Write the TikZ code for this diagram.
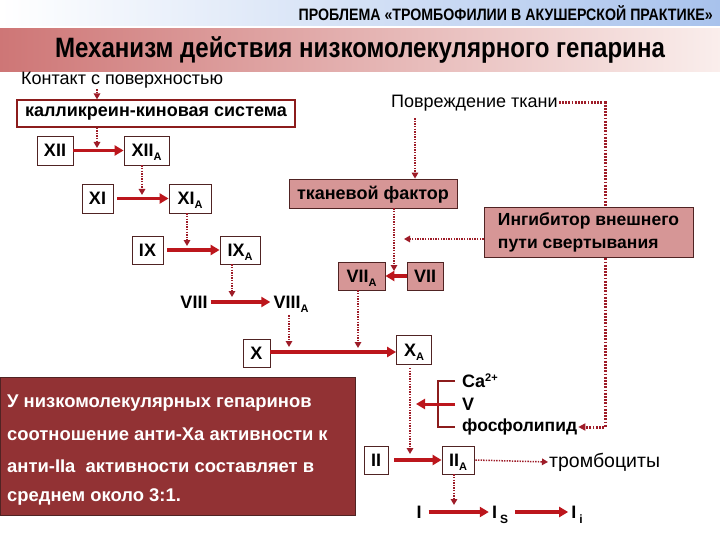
\documentclass[tikz,border=0pt]{standalone}
\usepackage{fontspec}
\setmainfont{Liberation Sans}
\newfontfamily\narrowfont[FakeStretch=0.86]{Liberation Sans}
\usetikzlibrary{arrows.meta}
\pgfdeclarelayer{bg}
\pgfsetlayers{bg,main}
\definecolor{hdrblue}{RGB}{168,194,236}
\definecolor{ttlred}{RGB}{206,118,118}
\definecolor{ttlmid}{RGB}{232,178,178}
\definecolor{ttlpale}{RGB}{250,238,236}
\definecolor{arrred}{RGB}{188,22,28}
\definecolor{dotred}{RGB}{158,28,40}
\definecolor{pinkfill}{RGB}{214,150,150}
\definecolor{boxline}{RGB}{80,35,35}
\definecolor{kalline}{RGB}{140,28,28}
\definecolor{darkbox}{RGB}{146,50,52}
\newcommand\sbA{\raisebox{-4pt}{\fontsize{11}{11}\selectfont A}}
\tikzset{
  wbox/.style={draw=boxline, fill=white, line width=0.8pt, inner sep=0pt,
    minimum height=29pt, text height=12.5pt, text depth=0pt,
    font=\fontsize{18}{18}\selectfont\bfseries},
  pbox/.style={wbox, fill=pinkfill},
  lbl/.style={inner sep=1pt, text height=12.5pt, text depth=0pt,
    font=\fontsize{18}{18}\selectfont\bfseries},
  plain/.style={inner sep=1pt, font=\fontsize{18}{18}\selectfont},
  solidarr/.style={draw=arrred, line width=3.6pt, -{Triangle[length=9pt,width=10pt]}},
  dotarr/.style={draw=dotred, line width=1.5pt, dash pattern=on 1.4pt off 1.2pt, -{Triangle[length=6pt,width=6.5pt]}},
  dotthick/.style={draw=dotred, line width=3pt, dash pattern=on 1.8pt off 1.4pt, -{Triangle[length=7pt,width=7pt]}},
  brk/.style={draw=kalline, line width=2pt},
  wtxt/.style={anchor=west, inner sep=0pt, text=white, font=\fontsize{18.4}{18.4}\selectfont\bfseries},
}
\begin{document}
\begin{tikzpicture}[x=1pt,y=-1pt]
\useasboundingbox (0,0) rectangle (720,540);
\begin{pgfonlayer}{bg}
\fill[white] (0,0) rectangle (720,540);
% header bands
\shade[left color=white, right color=hdrblue] (0,0) rectangle (720,26);
\shade[left color=ttlred, middle color=ttlmid, right color=ttlpale] (0,29) rectangle (720,72);
\end{pgfonlayer}
\node[anchor=east, inner sep=0pt, font=\narrowfont\bfseries\fontsize{16.5}{16.5}\selectfont] (hdr) at (713,13) {ПРОБЛЕМА «ТРОМБОФИЛИИ В АКУШЕРСКОЙ ПРАКТИКЕ»};
\node[inner sep=0pt, font=\narrowfont\bfseries\fontsize{28}{28}\selectfont] (ttl) at (360,50) {Механизм действия низкомолекулярного гепарина};

% left cascade
\node[plain, anchor=west] (kontakt) at (20,80) {Контакт с поверхностью};
\node[draw=kalline, fill=white, line width=1.2pt, minimum width=278pt, minimum height=27pt, inner sep=0pt,
  font=\fontsize{18}{18}\selectfont\bfseries] (kal) at (156,113.5) {калликреин-киновая система};
\node[wbox, minimum width=36pt] (XII) at (55,150.5) {XII};
\node[wbox, minimum width=45pt] (XIIA) at (146.5,150.5) {XII\sbA};
\node[wbox, minimum width=31pt] (XI) at (97.5,198.5) {XI};
\node[wbox, minimum width=42pt] (XIA) at (190,198.5) {XI\sbA};
\node[wbox, minimum width=31pt, minimum height=28pt] (IX) at (147.5,250) {IX};
\node[wbox, minimum width=40pt, minimum height=28pt] (IXA) at (240,250) {IX\sbA};
\node[lbl] (VIII) at (194,302) {VIII};
\node[lbl] (VIIIA) at (291,302) {VIII\sbA};
\node[wbox, minimum width=27pt, minimum height=28pt] (X) at (256.5,353) {X};
\node[wbox, minimum width=35pt] (XA) at (414,350) {X\sbA};

% right side
\node[plain, anchor=west] (povr) at (390,103) {Повреждение ткани};
\node[pbox, minimum width=168pt] (tkf) at (373,193.5) {тканевой фактор};
\node[pbox, minimum width=209pt, minimum height=50pt, text height=, text depth=, align=left, inner xsep=6pt,
  font=\fontsize{17.5}{23}\selectfont\bfseries] (ing) at (588.5,232) {Ингибитор внешнего\\пути свертывания};
\node[pbox, minimum width=47pt, minimum height=28pt] (VIIA) at (361.5,276) {VII\sbA};
\node[pbox, minimum width=36pt, minimum height=28pt] (VII) at (425,276) {VII};
\node[lbl, anchor=west] (ca) at (461,381) {Ca\raisebox{6pt}{\fontsize{11}{11}\selectfont 2+}};
\node[lbl, anchor=west] (V) at (461,404) {V};
\node[lbl, anchor=west, text height=, text depth=, font=\fontsize{17.5}{17.5}\selectfont\bfseries] (fosf) at (461,427) {фосфолипид};
\node[wbox, minimum width=24pt, minimum height=28pt] (II) at (376,460) {II};
\node[wbox, minimum width=32pt, minimum height=28pt] (IIA) at (458,460) {II\sbA};
\node[plain, anchor=west, font=\fontsize{19.5}{19.5}\selectfont] (tromb) at (548,462) {тромбоциты};
\node[lbl] (I) at (419,512) {I};
\node[lbl] (Is) at (500,512) {I\,\raisebox{-5pt}{\fontsize{12}{12}\selectfont S}};
\node[lbl] (Ii) at (577,512) {I\,\raisebox{-5pt}{\fontsize{12}{12}\selectfont i}};

% bottom-left box
\fill[darkbox, draw=boxline, line width=0.8pt] (0,377) rectangle (355,515);
\node[wtxt] (t1) at (7,403) {У низкомолекулярных гепаринов};
\node[wtxt] (t2) at (7,434) {соотношение анти-Ха активности к};
\node[wtxt] (t3) at (7,466) {анти-IIa\ \ активности составляет в};
\node[wtxt] (t4) at (7,497) {среднем около 3:1.};

% column coordinates and free ends
\coordinate (c97) at (97,0);
\coordinate (c142) at (142,0);
\coordinate (c187) at (187,0);
\coordinate (c232) at (232,0);
\coordinate (c289) at (289,0);
\coordinate (c358) at (358,0);
\coordinate (c394) at (394,0);
\coordinate (c410) at (410,0);
\coordinate (c415) at (415,0);
\coordinate (c454) at (454,0);
\coordinate (c605) at (605,0);
\coordinate (e1) at (97,148);
\coordinate (e2) at (142,195);
\coordinate (e3) at (187,246);
\coordinate (e4) at (232,297);
\coordinate (e5) at (394,271);
\coordinate (e6) at (404,239);
\coordinate (e7) at (358,348);
\coordinate (e8) at (289,347);
\coordinate (e9) at (410,454);
\coordinate (e10) at (454,505);
\coordinate (bx) at (438,0);
\coordinate (bt) at (455,0);
\coordinate (bv) at (416,404);

% solid arrows
\draw[solidarr] (XII) -- (XIIA);
\draw[solidarr, shorten <=4pt] (XI) -- (XIA);
\draw[solidarr, shorten <=4pt] (IX) -- (IXA);
\draw[solidarr, shorten <=2pt, shorten >=2pt] (VIII) -- (VIIIA);
\draw[solidarr] (X.east |- 0,352) -- (XA.west |- 0,352);
\draw[solidarr] (VII) -- (VIIA);
\draw[solidarr, shorten <=6pt] (II) -- (IIA);
\draw[solidarr, shorten <=6pt, shorten >=2pt] (I) -- (Is);
\draw[solidarr, shorten <=6pt, shorten >=2pt] (Is) -- (Ii);

% dotted arrows
\draw[dotarr] (kontakt.south -| c97) -- (kal.north -| c97);
\draw[dotarr] (kal.south -| c97) -- (e1);
\draw[dotarr] (XIIA.south -| c142) -- (e2);
\draw[dotarr] (XIA.south -| c187) -- (e3);
\draw[dotarr] (IXA.south -| c232) -- (e4);
\draw[dotarr] (povr.south -| c415) ++(0,6) -- (tkf.north -| c415);
\draw[dotarr] (tkf.south -| c394) -- (e5);
\draw[dotarr] (ing.west |- e6) -- (e6);
\draw[dotarr] (VIIA.south -| c358) -- (e7);
\draw[dotarr] (VIIIA.south -| c289) ++(0,6) -- (e8);
\draw[dotarr] (XA.south -| c410) ++(0,3) -- (e9);
\draw[dotarr, shorten <=1pt] (IIA.east) -- (tromb.west);
\draw[dotarr] (IIA.south -| c454) -- (e10);
\begin{pgfonlayer}{bg}
\draw[dotthick] (povr.east) -- (povr.east -| c605) -- (fosf.east -| c605) -- (fosf.east);
\end{pgfonlayer}

% bracket
\draw[brk] (ca.west -| bt) -- (ca.west -| bx) -- (fosf.west -| bx) -- (fosf.west -| bt);
\draw[solidarr, line width=3pt] (V.west -| bt) -- (bv);
\end{tikzpicture}
\end{document}
